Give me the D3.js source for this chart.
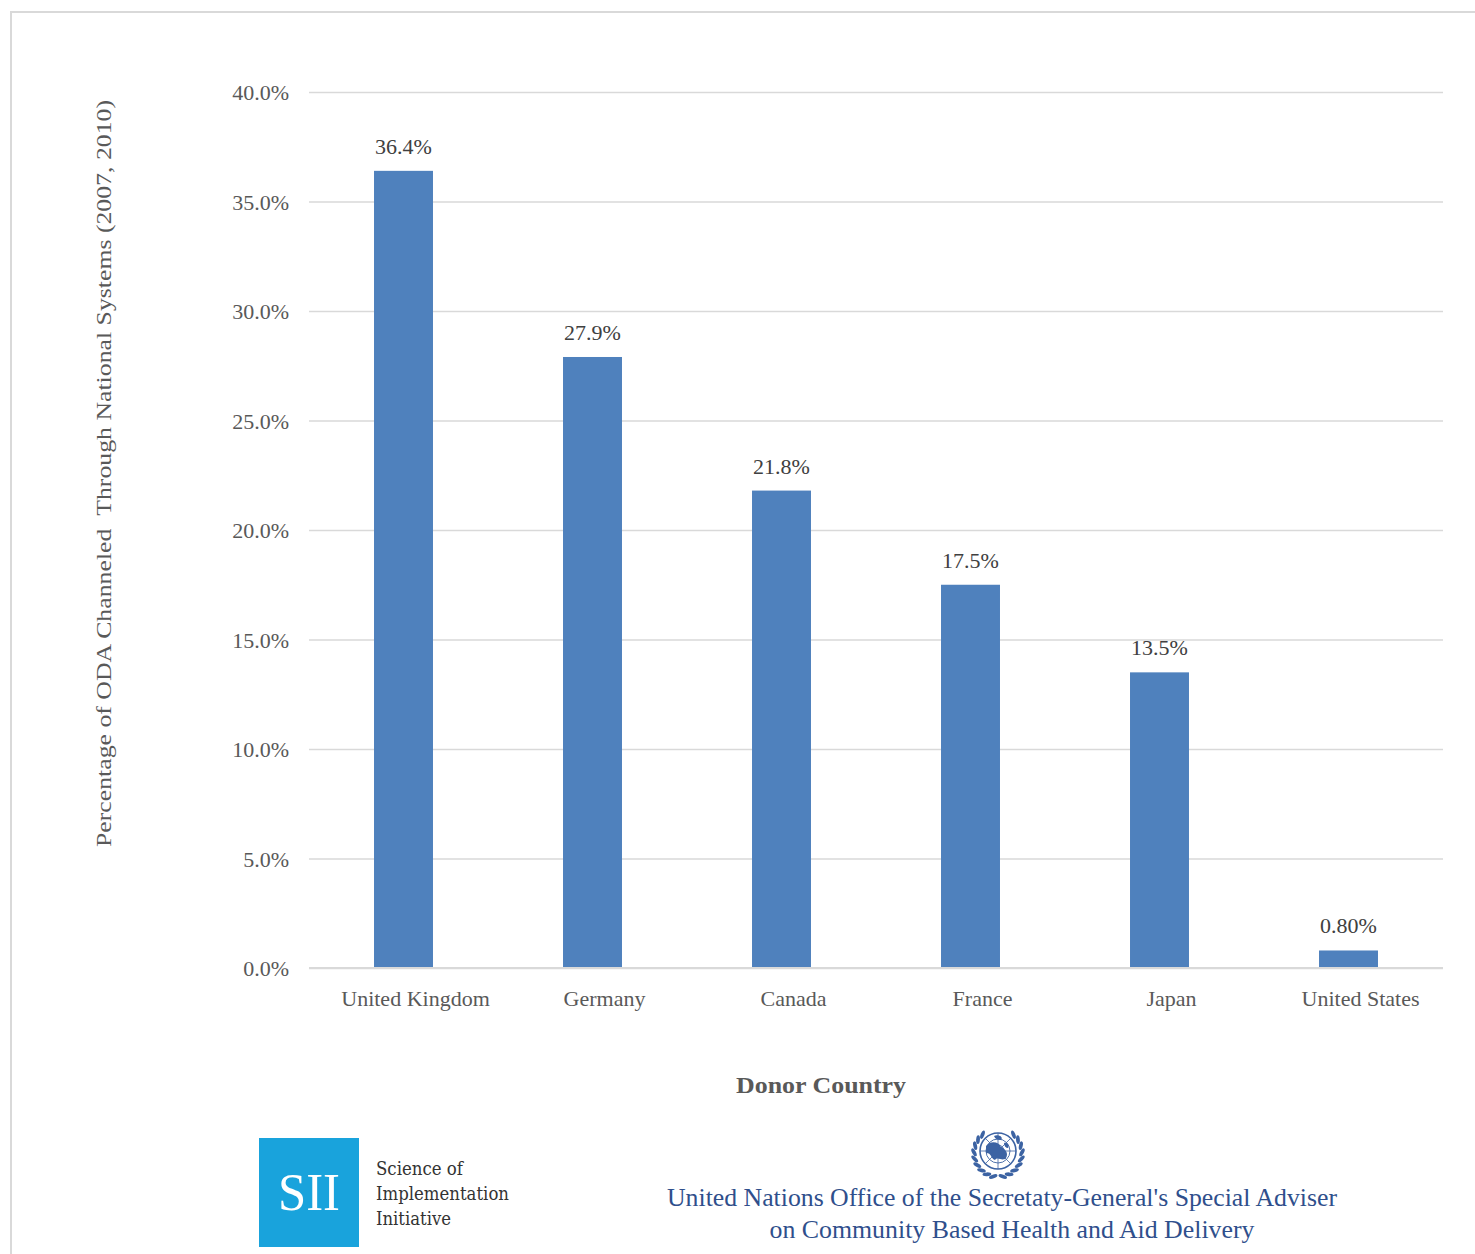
<!DOCTYPE html>
<html>
<head>
<meta charset="utf-8">
<script src="https://cdn.jsdelivr.net/npm/d3@7/dist/d3.min.js"></script>
<style>
  html, body { margin: 0; padding: 0; background: #fff; }
  svg { display: block; }
</style>
</head>
<body>
<svg id="chart" width="1475" height="1254"></svg>
<script>
// Donor countries and share of ODA channeled through national systems (%)
const countries = ["United Kingdom", "Germany", "Canada", "France", "Japan", "United States"];
const shares = [36.4, 27.9, 21.8, 17.5, 13.5, 0.8];
const valueLabels = ["36.4%", "27.9%", "21.8%", "17.5%", "13.5%", "0.80%"];
const yTicks = [0, 5, 10, 15, 20, 25, 30, 35, 40];

const yTitle = "Percentage of ODA Channeled\u00a0\u00a0Through National Systems (2007, 2010)";
const xTitle = "Donor Country";
const siiLines = ["Science of", "Implementation", "Initiative"];
const unLines = [
  "United Nations Office of the Secretaty-General's Special Adviser",
  "on Community Based Health and Aid Delivery"
];

const serif = "'Liberation Serif', 'Times New Roman', serif";
const textGray = "#595959";
const barColor = "#4F81BD";
const gridColor = "#D9D9D9";

const svg = d3.select("#chart");

// outer frame
svg.append("path")
  .attr("d", "M11,1254 V12 H1475")
  .attr("fill", "none")
  .attr("stroke", gridColor)
  .attr("stroke-width", 2);

const plot = { left: 309, right: 1443, top: 92, bottom: 968 };

const x = d3.scaleBand()
  .domain(countries)
  .range([plot.left, plot.right])
  .paddingInner(0.688)
  .paddingOuter(0.344);

const y = d3.scaleLinear()
  .domain([0, 40])
  .range([plot.bottom, plot.top]);

// gridlines and y labels
const yAxis = d3.axisLeft(y)
  .tickValues(yTicks)
  .tickSize(-(plot.right - plot.left))
  .tickPadding(20)
  .tickFormat(d => d.toFixed(1) + "%");

const gy = svg.append("g")
  .attr("transform", `translate(${plot.left},0)`)
  .call(yAxis);
gy.select(".domain").remove();
gy.selectAll(".tick line")
  .attr("stroke", gridColor)
  .attr("stroke-width", 1.6);
gy.selectAll(".tick text")
  .attr("fill", textGray)
  .attr("font-family", serif)
  .attr("font-size", 22)
  .attr("dy", "0.35em");

// bars
svg.append("g").selectAll("rect")
  .data(shares)
  .join("rect")
  .attr("x", (d, i) => x(countries[i]))
  .attr("y", d => y(d))
  .attr("width", x.bandwidth())
  .attr("height", d => y(0) - y(d))
  .attr("fill", barColor);

// value labels
svg.append("g").selectAll("text")
  .data(shares)
  .join("text")
  .attr("x", (d, i) => x(countries[i]) + x.bandwidth() / 2)
  .attr("y", d => y(d) - 17)
  .attr("text-anchor", "middle")
  .attr("fill", "#404040")
  .attr("font-family", serif)
  .attr("font-size", 22)
  .text((d, i) => valueLabels[i]);

// x axis baseline and category labels
const xAxis = d3.axisBottom(x).tickSize(0).tickPadding(22);
const gx = svg.append("g")
  .attr("transform", `translate(12,${plot.bottom})`)
  .call(xAxis);
gx.select(".domain").remove();
gx.selectAll(".tick text")
  .attr("fill", textGray)
  .attr("font-family", serif)
  .attr("font-size", 22)
  .attr("dy", "0.71em");

svg.append("line")
  .attr("x1", plot.left).attr("x2", plot.right)
  .attr("y1", plot.bottom).attr("y2", plot.bottom)
  .attr("stroke", gridColor)
  .attr("stroke-width", 2);

// axis titles
svg.append("text")
  .attr("transform", `translate(111,${(100 + 847) / 2}) rotate(-90)`)
  .attr("text-anchor", "middle")
  .attr("fill", textGray)
  .attr("font-family", serif)
  .attr("font-size", 22)
  .attr("textLength", 747)
  .attr("lengthAdjust", "spacingAndGlyphs")
  .text(yTitle);

svg.append("text")
  .attr("x", 821)
  .attr("y", 1093)
  .attr("text-anchor", "middle")
  .attr("fill", textGray)
  .attr("font-family", serif)
  .attr("font-weight", "bold")
  .attr("font-size", 24)
  .attr("textLength", 170)
  .attr("lengthAdjust", "spacingAndGlyphs")
  .text(xTitle);

// SII logo block
const sii = svg.append("g");
sii.append("rect")
  .attr("x", 259).attr("y", 1138)
  .attr("width", 100).attr("height", 109)
  .attr("fill", "#19A3DC");
sii.append("text")
  .attr("x", 309).attr("y", 1210)
  .attr("text-anchor", "middle")
  .attr("fill", "#fff")
  .attr("font-family", serif)
  .attr("font-size", 52)
  .attr("textLength", 62)
  .attr("lengthAdjust", "spacingAndGlyphs")
  .text("SII");
sii.selectAll("text.line")
  .data(siiLines)
  .join("text")
  .attr("class", "line")
  .attr("x", 376)
  .attr("y", (d, i) => 1175 + i * 25)
  .attr("fill", "#333")
  .attr("font-family", "'DejaVu Serif', serif")
  .attr("font-size", 18)
  .attr("textLength", (d, i) => [87, 133, 75][i])
  .attr("lengthAdjust", "spacingAndGlyphs")
  .text(d => d);

// UN emblem (simplified globe with laurel wreath)
const unBlue = "#3C63A3";
const un = svg.append("g").attr("transform", "translate(998,1151)");
un.append("circle").attr("r", 18).attr("fill", "#fff").attr("stroke", unBlue).attr("stroke-width", 1.6);
[6, 12].forEach(r => un.append("circle").attr("r", r).attr("fill", "none").attr("stroke", unBlue).attr("stroke-width", 0.9));
d3.range(8).forEach(k => {
  const a = k * Math.PI / 4;
  un.append("line")
    .attr("x1", 0).attr("y1", 0)
    .attr("x2", 18 * Math.cos(a)).attr("y2", 18 * Math.sin(a))
    .attr("stroke", unBlue).attr("stroke-width", 0.8);
});
un.append("path")
  .attr("d", "M-12,-5 C-7,-11 1,-9 3,-4 C7,-2 11,2 8,7 C4,11 0,5 -3,9 C-8,7 -6,2 -12,2 Z M-4,-15 C0,-17 6,-14 3,-11 C0,-11 -3,-12 -4,-15 Z M6,-8 C9,-9 12,-6 10,-3 C8,-3 6,-5 6,-8 Z")
  .attr("fill", unBlue);
// wreath leaves
[-1, 1].forEach(side => {
  d3.range(9).forEach(k => {
    const a = Math.PI / 2 - side * (0.2 + k * 0.28);
    const r = 24;
    const cx = r * Math.cos(a), cy = r * Math.sin(a) + 2;
    un.append("ellipse")
      .attr("cx", cx).attr("cy", cy)
      .attr("rx", 4.4).attr("ry", 1.9)
      .attr("transform", `rotate(${(a * 180 / Math.PI) + 90 + side * 30},${cx},${cy})`)
      .attr("fill", unBlue);
  });
});

// UN office caption
svg.selectAll("text.un")
  .data(unLines)
  .join("text")
  .attr("class", "un")
  .attr("x", (d, i) => [1002, 1012][i])
  .attr("y", (d, i) => [1206, 1238][i])
  .attr("text-anchor", "middle")
  .attr("fill", "#2F4F8C")
  .attr("font-family", serif)
  .attr("font-size", 25)
  .attr("textLength", (d, i) => [670, 485][i])
  .attr("lengthAdjust", "spacingAndGlyphs")
  .text(d => d);
</script>
</body>
</html>
